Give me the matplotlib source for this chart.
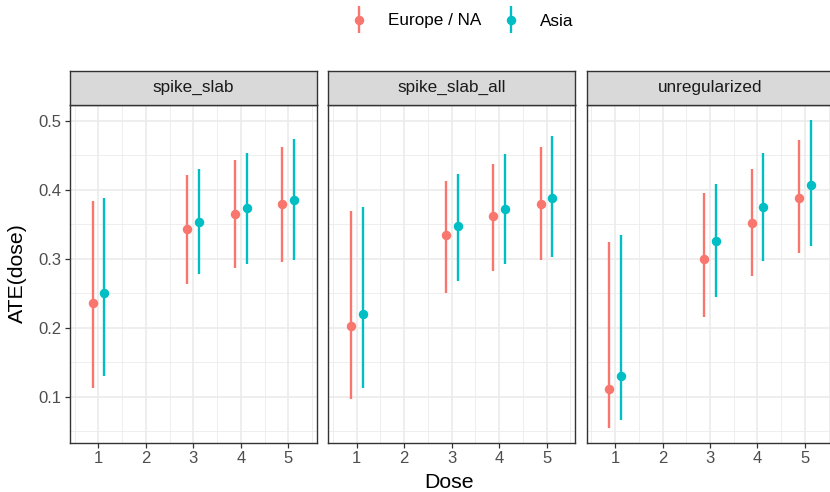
#!/usr/bin/env python3
"""Dose-response ATE estimates by region, faceted by regularization method."""

import matplotlib
import matplotlib.pyplot as plt
from matplotlib.ticker import MultipleLocator, FormatStrFormatter
from matplotlib.container import ErrorbarContainer
from matplotlib.legend_handler import HandlerErrorbar

matplotlib.use('Agg')

plt.rcParams['font.family'] = ['Liberation Sans', 'DejaVu Sans']

# Data
PANELS = ['spike_slab', 'spike_slab_all', 'unregularized']
REGIONS = ['Europe / NA', 'Asia']
DOSES = [1, 3, 4, 5]

# spike_slab
SS_EU_EST = [0.236, 0.343, 0.365, 0.380]
SS_EU_LO = [0.112, 0.264, 0.287, 0.295]
SS_EU_HI = [0.384, 0.422, 0.443, 0.463]
SS_AS_EST = [0.251, 0.354, 0.374, 0.386]
SS_AS_LO = [0.130, 0.278, 0.292, 0.298]
SS_AS_HI = [0.388, 0.431, 0.453, 0.474]

# spike_slab_all
SSA_EU_EST = [0.203, 0.334, 0.362, 0.380]
SSA_EU_LO = [0.097, 0.251, 0.283, 0.298]
SSA_EU_HI = [0.369, 0.413, 0.437, 0.463]
SSA_AS_EST = [0.220, 0.348, 0.373, 0.388]
SSA_AS_LO = [0.112, 0.268, 0.293, 0.302]
SSA_AS_HI = [0.375, 0.423, 0.452, 0.479]

# unregularized
UN_EU_EST = [0.111, 0.300, 0.352, 0.389]
UN_EU_LO = [0.055, 0.215, 0.275, 0.308]
UN_EU_HI = [0.325, 0.395, 0.430, 0.473]
UN_AS_EST = [0.130, 0.326, 0.375, 0.407]
UN_AS_LO = [0.066, 0.245, 0.297, 0.319]
UN_AS_HI = [0.334, 0.408, 0.454, 0.501]

SERIES = {
    'spike_slab': [(SS_EU_EST, SS_EU_LO, SS_EU_HI), (SS_AS_EST, SS_AS_LO, SS_AS_HI)],
    'spike_slab_all': [(SSA_EU_EST, SSA_EU_LO, SSA_EU_HI), (SSA_AS_EST, SSA_AS_LO, SSA_AS_HI)],
    'unregularized': [(UN_EU_EST, UN_EU_LO, UN_EU_HI), (UN_AS_EST, UN_AS_LO, UN_AS_HI)],
}

COLORS = ['#F8766D', '#00BFC4']
DODGE = [-0.125, 0.125]

W, H = 830, 492
fig = plt.figure(figsize=(W / 100, H / 100), dpi=100)

panel_left = [70, 328.3, 586.7]
panel_w = 246.7
panel_top, panel_bot = 104.5, 442.5
strip_top = 70.7

handles = []
for i, name in enumerate(PANELS):
    x0 = panel_left[i] / W
    ax = fig.add_axes([x0, 1 - panel_bot / H, panel_w / W, (panel_bot - panel_top) / H])
    sax = fig.add_axes([x0, 1 - panel_top / H, panel_w / W, (panel_top - strip_top) / H])

    for j, (est, lo, hi) in enumerate(SERIES[name]):
        xs = [d + DODGE[j] for d in DOSES]
        yerr = [[e - l for e, l in zip(est, lo)], [h - e for e, h in zip(est, hi)]]
        h = ax.errorbar(xs, est, yerr=yerr, fmt='o', color=COLORS[j], ms=5.8,
                        elinewidth=1.7, capsize=0, zorder=3, label=REGIONS[j])
        if i == 0:
            handles.append(h)

    ax.set_xlim(0.4, 5.6)
    ax.set_ylim(0.0335, 0.524)
    ax.xaxis.set_major_locator(MultipleLocator(1))
    ax.xaxis.set_minor_locator(MultipleLocator(0.5))
    ax.yaxis.set_major_locator(MultipleLocator(0.1))
    ax.yaxis.set_minor_locator(MultipleLocator(0.05))
    ax.grid(which='major', color='#EBEBEB', lw=1.2, zorder=0)
    ax.grid(which='minor', color='#EBEBEB', lw=0.6, zorder=0)
    ax.set_axisbelow(True)
    ax.tick_params(which='minor', length=0)
    ax.tick_params(which='major', length=3.5, width=0.9, color='#333333',
                   labelcolor='#4D4D4D', labelsize=12, pad=2.5)
    for s in ax.spines.values():
        s.set_color('#333333')
        s.set_linewidth(1.0)
    if i > 0:
        ax.tick_params(axis='y', labelleft=False, length=0)
    ax.yaxis.set_major_formatter(FormatStrFormatter('%.1f'))

    sax.set_facecolor('#D9D9D9')
    sax.set_xticks([])
    sax.set_yticks([])
    for s in sax.spines.values():
        s.set_color('#333333')
        s.set_linewidth(1.0)
    sax.text(0.5, 0.5, name, transform=sax.transAxes, ha='center', va='center',
             fontsize=12.3, color='#1A1A1A')

fig.text(449 / W, 1 - 482 / H, 'Dose', ha='center', va='center', fontsize=15.3)
fig.text(17 / W, 1 - 273 / H, 'ATE(dose)', ha='center', va='center',
         rotation=90, fontsize=15.3)

fig.legend(handles=handles, labels=REGIONS, loc='center', ncol=2,
           bbox_to_anchor=(462 / W, 1 - 21 / H), frameon=False, fontsize=12.3,
           handlelength=1.0, columnspacing=1.2, handletextpad=1.2,
           handler_map={ErrorbarContainer: HandlerErrorbar(yerr_size=0.79)})

fig.savefig('out.png', dpi=100)
